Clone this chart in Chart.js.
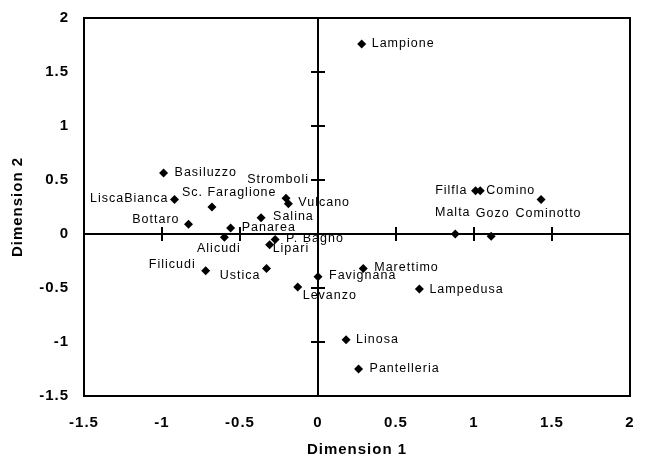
<!DOCTYPE html>
<html>
<head>
<meta charset="utf-8">
<script src="https://cdn.jsdelivr.net/npm/chart.js@4"></script>
<style>
  html, body { margin: 0; padding: 0; background: #fff; }
  #wrap { width: 647px; height: 463px; position: relative; }
</style>
</head>
<body>
<div id="wrap"><canvas id="mdsChart"></canvas></div>
<script>
// island names and their coordinates on the two dimensions
const islands = ["Lampione", "Basiluzzo", "LiscaBianca", "Sc. Faraglione", "Bottaro", "Panarea", "Alicudi",
  "Stromboli", "Vulcano", "Salina", "P. Bagno", "Lipari", "Filicudi", "Ustica", "Favignana", "Levanzo",
  "Marettimo", "Lampedusa", "Linosa", "Pantelleria", "Filfla", "Comino", "Cominotto", "Malta", "Gozo"];
const dim1 = [0.28, -0.99, -0.92, -0.68, -0.83, -0.56, -0.60,
  -0.205, -0.19, -0.365, -0.275, -0.31, -0.72, -0.33, 0.0, -0.13,
  0.29, 0.65, 0.18, 0.26, 1.01, 1.04, 1.43, 0.88, 1.11];
const dim2 = [1.76, 0.565, 0.32, 0.25, 0.09, 0.055, -0.03,
  0.33, 0.28, 0.15, -0.05, -0.10, -0.34, -0.32, -0.395, -0.49,
  -0.32, -0.51, -0.98, -1.25, 0.40, 0.40, 0.32, 0.0, -0.02];
const tickValues = [-1.5, -1, -0.5, 0, 0.5, 1, 1.5, 2];

// where each label sits relative to its marker: [dx, dy, align]
const labelPlace = [
  [10, 0, "left"], [11, 0, "left"], [-7, -1, "right"], [-30, -14, "left"], [-10, -5, "right"],
  [11, -1, "left"], [-6, 11, "center"], [22, -19, "right"], [10, -1, "left"], [12, -1, "left"],
  [11, -1, "left"], [3, 4, "left"], [-11, -6, "right"], [-7, 7, "right"], [11, -1, "left"],
  [5, 9, "left"], [11, -1, "left"], [10, 0, "left"], [10, 0, "left"], [11, 0, "left"],
  [-9, 0, "right"], [6, 0, "left"], [7, 14, "center"], [-3, -21, "center"], [1, -23, "center"]
];

const points = dim1.map((x, i) => ({ x: x, y: dim2[i] }));

// the original text is set a little wide, so space the letters out
const spacing = {
  id: "spacing",
  beforeUpdate(chart) { chart.ctx.letterSpacing = "1px"; },
  beforeDraw(chart) { chart.ctx.letterSpacing = "1px"; }
};

// frame, cross axes with small ticks, and point labels
const decorations = {
  id: "decorations",
  beforeDatasetsDraw(chart) {
    const { ctx, chartArea: a, scales: { x, y } } = chart;
    const x0 = x.getPixelForValue(0), y0 = y.getPixelForValue(0);
    ctx.save();
    ctx.strokeStyle = "#000";
    ctx.lineWidth = 2;
    ctx.strokeRect(a.left, a.top, a.right - a.left, a.bottom - a.top);
    ctx.beginPath();
    ctx.moveTo(a.left, y0); ctx.lineTo(a.right, y0);
    ctx.moveTo(x0, a.top); ctx.lineTo(x0, a.bottom);
    tickValues.forEach(v => {
      if (v === 0) return;
      const px = x.getPixelForValue(v);
      if (px > a.left + 1 && px < a.right - 1) { ctx.moveTo(px, y0 - 7); ctx.lineTo(px, y0 + 7); }
      const py = y.getPixelForValue(v);
      if (py > a.top + 1 && py < a.bottom - 1) { ctx.moveTo(x0 - 7, py); ctx.lineTo(x0 + 7, py); }
    });
    ctx.stroke();
    ctx.restore();
  },
  afterDatasetsDraw(chart) {
    const { ctx } = chart;
    const meta = chart.getDatasetMeta(0);
    ctx.save();
    ctx.font = "12.5px 'Liberation Sans', Arial, sans-serif";
    ctx.letterSpacing = "1px";
    ctx.fillStyle = "#000";
    ctx.textBaseline = "middle";
    meta.data.forEach((pt, i) => {
      const p = labelPlace[i];
      ctx.textAlign = p[2];
      const shift = p[2] === "left" ? 0 : (p[2] === "center" ? 0.5 : 1);
      ctx.fillText(islands[i], pt.x + p[0] + shift, pt.y + p[1]);
    });
    ctx.restore();
  }
};

const boldFont = { family: "'Liberation Sans', Arial, sans-serif", size: 15, weight: "bold" };
const noOverflow = s => { s.paddingLeft = 0; s.paddingRight = 0; s.paddingTop = 0; s.paddingBottom = 0; };

new Chart(document.getElementById("mdsChart"), {
  type: "scatter",
  data: {
    datasets: [{
      data: points,
      pointStyle: "rectRot",
      pointRadius: 4.5,
      pointHoverRadius: 4.5,
      backgroundColor: "#000",
      borderColor: "#000",
      borderWidth: 0
    }]
  },
  options: {
    responsive: true,
    maintainAspectRatio: false,
    animation: false,
    layout: { padding: { top: 18, right: 17, left: 0, bottom: 0 } },
    plugins: { legend: { display: false }, tooltip: { enabled: false } },
    scales: {
      x: {
        type: "linear", min: -1.5, max: 2,
        afterBuildTicks: s => { s.ticks = tickValues.map(v => ({ value: v })); },
        grid: { display: false, drawTicks: false },
        border: { display: false },
        ticks: { color: "#000", font: boldFont, padding: 18, maxRotation: 0,
          callback: v => String(v) },
        title: { display: true, text: "Dimension 1", color: "#000", font: boldFont, padding: { top: 11 } },
        afterFit: s => { s.height = 67; noOverflow(s); }
      },
      y: {
        type: "linear", min: -1.5, max: 2,
        afterBuildTicks: s => { s.ticks = tickValues.map(v => ({ value: v })); },
        grid: { display: false, drawTicks: false },
        border: { display: false },
        ticks: { color: "#000", font: boldFont, padding: 15, callback: v => String(v) },
        title: { display: true, text: "Dimension 2", color: "#000", font: boldFont, padding: { bottom: 0, top: 9 } },
        afterFit: s => { s.width = 84; noOverflow(s); }
      }
    }
  },
  plugins: [spacing, decorations]
});
</script>
</body>
</html>
